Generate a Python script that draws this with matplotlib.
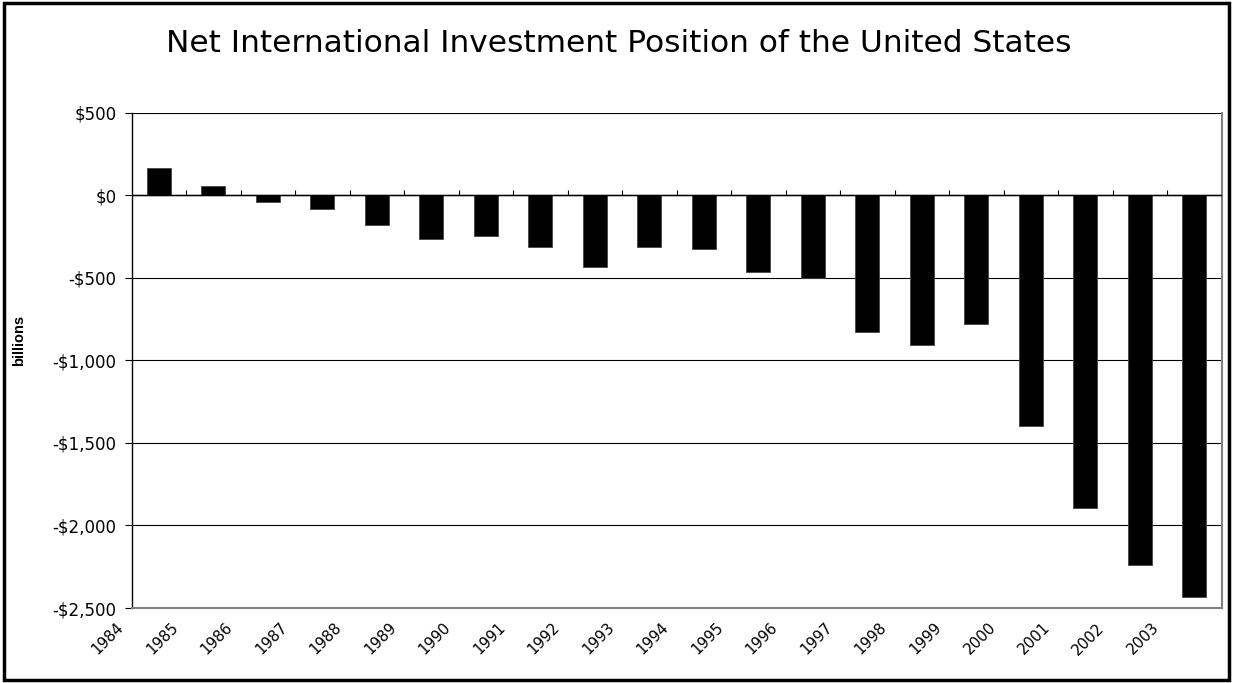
import numpy as np
import matplotlib.pyplot as plt
import matplotlib.transforms as mtransforms
from matplotlib.patches import Rectangle
from matplotlib.ticker import FuncFormatter

plt.rcParams['font.family'] = ['DejaVu Sans']

years = [str(y) for y in range(1984, 2004)]
# net position, billions of dollars
niip = [163, 58, -39, -83, -182, -263, -248, -314, -437, -311,
        -327, -463, -501, -826, -905, -782, -1395, -1894, -2239, -2435]
yticks = [500, 0, -500, -1000, -1500, -2000, -2500]

fig = plt.figure(figsize=(12.33, 6.83), dpi=100)
ax = fig.add_axes([0.1068, 0.1098, 0.884, 0.7252])

x = np.arange(len(years))
ax.bar(x, niip, width=0.44, color='black', edgecolor='#444444', linewidth=0.6, zorder=3)

ax.set_xlim(-0.5, len(years) - 0.5)
ax.set_ylim(-2500, 500)
ax.set_yticks(yticks)


def money(v, pos):
    v = int(round(v))
    s = '${:,}'.format(abs(v))
    return '-' + s if v < 0 else s


ax.yaxis.set_major_formatter(FuncFormatter(money))
ax.yaxis.grid(True, color='black', linewidth=0.8, zorder=1)
ax.tick_params(axis='y', direction='out', length=5, width=0.8, color='black',
               labelsize=12, pad=6)

ax.spines['left'].set_color('black')
ax.spines['left'].set_linewidth(1.0)
ax.spines['bottom'].set_color('#808080')
ax.spines['bottom'].set_linewidth(1.5)
ax.spines['right'].set_color('#808080')
ax.spines['right'].set_linewidth(1.5)
ax.spines['top'].set_visible(False)

# year labels at the bottom, shifted left like the original
ax.set_xticks(x)
ax.set_xticklabels(years, rotation=45, ha='right', va='top', rotation_mode='anchor',
                   fontsize=10.8)
ax.tick_params(axis='x', length=0, pad=0)
offset = mtransforms.ScaledTranslation(-0.43, -0.12, fig.dpi_scale_trans)
for lbl in ax.get_xticklabels():
    lbl.set_transform(lbl.get_transform() + offset)

# category axis crossing at zero with ticks between categories
zero_frac = (0 - (-2500)) / 3000
sec = ax.secondary_xaxis(zero_frac)
sec.set_xticks(x[:-1] + 0.5)
sec.set_xticklabels([])
sec.tick_params(axis='x', direction='out', length=3.5, width=0.8, color='black')
sec.spines['bottom'].set_color('black')
sec.spines['bottom'].set_linewidth(1.0)
ax.axhline(0, color='black', linewidth=1.0, zorder=4)

fig.text(19 / 1233, 1 - 340 / 683, 'billions', rotation=90, ha='center', va='center',
         fontsize=10.5, fontweight='bold', family=['Liberation Sans', 'DejaVu Sans'])

fig.text(0.5016, 1 - 51.7 / 683, 'Net International Investment Position of the United States',
         ha='center', va='baseline', fontsize=22.5)

fig.patches.append(Rectangle((0.003, 0.004), 0.994, 0.991, transform=fig.transFigure,
                             fill=False, edgecolor='black', linewidth=2.5))

fig.savefig('out.png', dpi=100, facecolor='white')
